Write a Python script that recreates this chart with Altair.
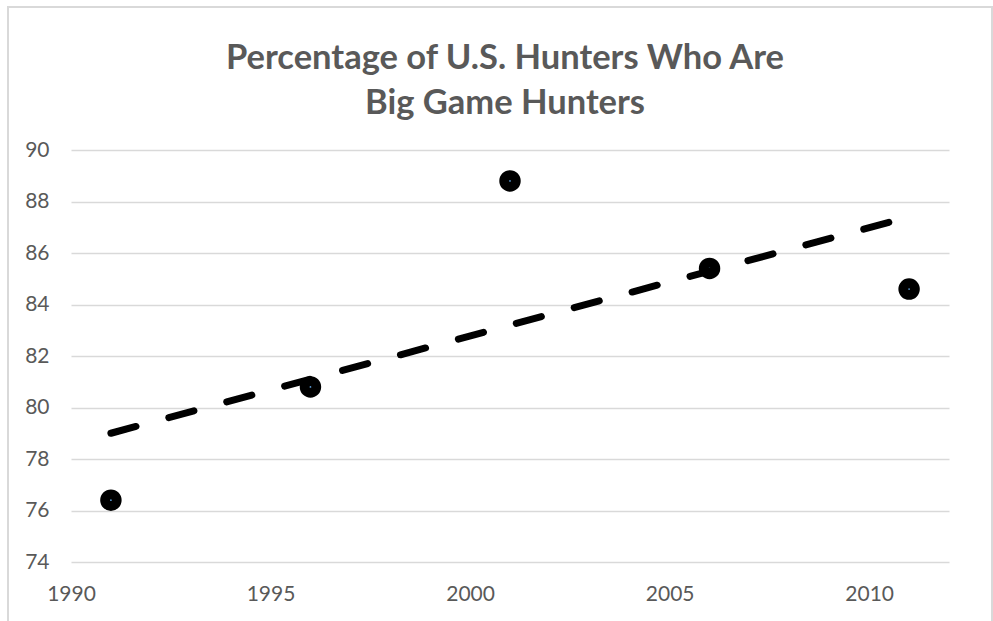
import altair as alt
import pandas as pd

years = [1991, 1996, 2001, 2006, 2011]
pct = [76.4, 80.8, 88.8, 85.4, 84.6]
x_ticks = [1990, 1995, 2000, 2005, 2010]
y_ticks = [74, 76, 78, 80, 82, 84, 86, 88, 90]
title_lines = ["Percentage of U.S. Hunters Who Are", "Big Game Hunters"]

df = pd.DataFrame({"year": years, "pct": pct})

GRAY = "#595959"
FONT = "Lato"

x_enc = alt.X(
    "year:Q",
    scale=alt.Scale(domain=[1990, 2012], nice=False, zero=False),
    axis=alt.Axis(values=x_ticks, format="d", grid=False, domain=False, ticks=False,
                  title=None, labelPadding=21, labelFontSize=21, labelColor=GRAY,
                  labelFont=FONT, labelFlush=False),
)
y_enc = alt.Y(
    "pct:Q",
    scale=alt.Scale(domain=[74, 90], nice=False, zero=False),
    axis=alt.Axis(values=y_ticks, grid=True, gridColor="#d9d9d9", gridWidth=1.5,
                  domain=False, ticks=False, title=None, labelPadding=22,
                  labelFontSize=21, labelColor=GRAY, labelFont=FONT),
)

base = alt.Chart(df)

frame = base.mark_rect(fill=None, stroke="#d9d9d9", strokeWidth=1.5).encode(
    x=alt.value(-63), x2=alt.value(921), y=alt.value(-143), y2=alt.value(490)
)

title1 = alt.Chart(pd.DataFrame({"t": [title_lines[0]]})).mark_text(
    font=FONT, fontSize=34.5, fontWeight="bold", color=GRAY, align="center", baseline="alphabetic"
).encode(text="t:N", x=alt.value(434), y=alt.value(-81))
title2 = alt.Chart(pd.DataFrame({"t": [title_lines[1]]})).mark_text(
    font=FONT, fontSize=34.5, fontWeight="bold", color=GRAY, align="center", baseline="alphabetic"
).encode(text="t:N", x=alt.value(434), y=alt.value(-36))

trend = base.transform_regression("year", "pct").mark_line(
    color="black", strokeWidth=7, strokeDash=[26, 34], strokeCap="round"
).encode(x=x_enc, y=y_enc)

points = base.mark_circle(size=460, color="black", opacity=1).encode(x=x_enc, y=y_enc)
dots = base.mark_circle(size=3, color="#5b9bd5", opacity=1).encode(x=x_enc, y=y_enc)

chart = alt.layer(frame, points, dots, trend, title1, title2).properties(
    width=878,
    height=412,
    autosize=alt.AutoSizeParams(type="none"),
    padding={"left": 71, "top": 150, "right": 44, "bottom": 59},
).configure(background="white").configure_view(strokeWidth=0, stroke="transparent")

chart.save("out.html", embed_options={"renderer": "svg", "actions": False})
